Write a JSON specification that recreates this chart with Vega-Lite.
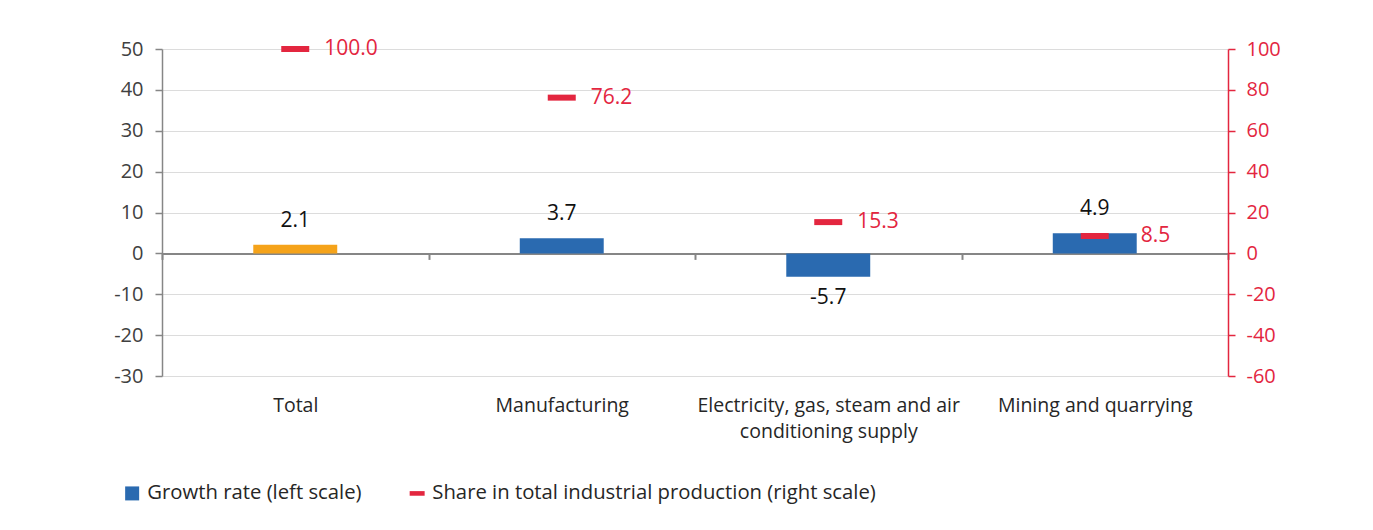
{
  "$schema": "https://vega.github.io/schema/vega-lite/v6.json",
  "width": 1066,
  "height": 327,
  "autosize": {"type": "none"},
  "padding": {"left": 162, "top": 49, "right": 145, "bottom": 154},
  "background": "white",
  "config": {
    "font": "Open Sans",
    "view": {"stroke": null},
    "axis": {"labelFont": "Open Sans", "titleFont": "Open Sans"},
    "legend": {"labelFont": "Open Sans"}
  },
  "data": {
    "values": [
      {"category": "Total", "growth": 2.1, "share": 100.0},
      {"category": "Manufacturing", "growth": 3.7, "share": 76.2},
      {"category": "Electricity, gas, steam and air conditioning supply", "growth": -5.7, "share": 15.3},
      {"category": "Mining  and quarrying", "growth": 4.9, "share": 8.5}
    ]
  },
  "encoding": {
    "x": {
      "field": "category",
      "type": "nominal",
      "sort": null,
      "scale": {"paddingInner": 0, "paddingOuter": 0},
      "axis": {
        "title": null,
        "labelAngle": 0,
        "offset": -122.6,
        "domainColor": "#868686",
        "domainWidth": 2,
        "tickBand": "extent",
        "tickColor": "#868686",
        "tickWidth": 2,
        "tickSize": 6,
        "labelPadding": 137,
        "labelFontSize": 19.5,
        "labelLimit": 0,
        "labelColor": "#262626",
        "labelBaseline": "top",
        "labelLineHeight": 26,
        "labelExpr": "datum.label === 'Electricity, gas, steam and air conditioning supply' ? ['Electricity, gas, steam and air', 'conditioning supply'] : datum.label"
      }
    }
  },
  "layer": [
    {
      "transform": [{"calculate": "replace(format(datum.growth, '.1f'), '\u2212', '-')", "as": "growthLabel"}],
      "layer": [
        {
          "mark": {"type": "bar", "width": {"band": 0.315}},
          "encoding": {
            "y": {
              "field": "growth",
              "type": "quantitative",
              "scale": {"domain": [-30, 50], "nice": false},
              "axis": {
                "title": null,
                "values": [-30, -20, -10, 0, 10, 20, 30, 40, 50],
                "labelExpr": "replace(datum.label, '\u2212', '-')",
                "grid": true,
                "gridColor": "#dcdcdc",
                "gridWidth": 1.2,
                "domainColor": "#868686",
                "domainWidth": 1.5,
                "tickColor": "#868686",
                "tickWidth": 1.5,
                "tickSize": 7,
                "labelPadding": 12,
                "labelFontSize": 20,
                "labelColor": "#404040"
              }
            },
            "color": {
              "condition": {"test": "datum.category === 'Total'", "value": "#f5a31a"},
              "datum": "Growth rate (left scale)",
              "type": "nominal",
              "scale": {
                "domain": ["Growth rate (left scale)", "Share in total industrial production (right scale)"],
                "range": ["#2a6ab0", "#e3263f"]
              },
              "legend": {
                "title": null,
                "orient": "none",
                "direction": "horizontal",
                "legendX": -40,
                "legendY": 434,
                "labelFontSize": 20.3,
                "labelLimit": 0,
                "labelColor": "#262626",
                "labelOffset": 5,
                "columnPadding": 45,
                "symbolSize": 196,
                "symbolStrokeWidth": 0,
                "symbolOpacity": 1,
                "encode": {
                  "symbols": {
                    "update": {
                      "shape": {"signal": "datum.value === 'Growth rate (left scale)' ? 'square' : 'M-1.07,-0.33H1.07V0.33H-1.07Z'"},
                      "strokeWidth": {"value": 0},
                      "opacity": {"value": 1}
                    }
                  }
                }
              }
            }
          }
        },
        {
          "transform": [{"filter": "datum.growth >= 0"}],
          "mark": {"type": "text", "dy": -24, "fontSize": 21, "color": "#111111", "baseline": "middle"},
          "encoding": {
            "y": {"field": "growth", "type": "quantitative"},
            "text": {"field": "growthLabel", "type": "nominal"}
          }
        },
        {
          "transform": [{"filter": "datum.growth < 0"}],
          "mark": {"type": "text", "dy": 21, "fontSize": 21, "color": "#111111", "baseline": "middle"},
          "encoding": {
            "y": {"field": "growth", "type": "quantitative"},
            "text": {"field": "growthLabel", "type": "nominal"}
          }
        }
      ]
    },
    {
      "layer": [
        {
          "mark": {"type": "tick", "size": 28, "thickness": 6, "orient": "horizontal", "opacity": 1},
          "encoding": {
            "y": {
              "field": "share",
              "type": "quantitative",
              "scale": {"domain": [-60, 100], "nice": false},
              "axis": {
                "orient": "right",
                "title": null,
                "values": [-60, -40, -20, 0, 20, 40, 60, 80, 100],
                "labelExpr": "replace(datum.label, '\u2212', '-')",
                "grid": false,
                "domainColor": "#e3263f",
                "domainWidth": 1.5,
                "tickColor": "#e3263f",
                "tickWidth": 1.5,
                "tickSize": 7,
                "labelPadding": 11,
                "labelFontSize": 20,
                "labelColor": "#e3263f"
              }
            },
            "color": {"datum": "Share in total industrial production (right scale)", "type": "nominal"}
          }
        },
        {
          "transform": [{"filter": "datum.category !== 'Mining  and quarrying'"}],
          "mark": {"type": "text", "align": "left", "baseline": "middle", "dx": 29, "fontSize": 21, "color": "#e3263f"},
          "encoding": {
            "y": {"field": "share", "type": "quantitative"},
            "text": {"field": "share", "type": "quantitative", "format": ".1f"}
          }
        },
        {
          "transform": [{"filter": "datum.category === 'Mining  and quarrying'"}],
          "mark": {"type": "text", "align": "left", "baseline": "middle", "dx": 46, "fontSize": 21, "color": "#e3263f"},
          "encoding": {
            "y": {"field": "share", "type": "quantitative"},
            "text": {"field": "share", "type": "quantitative", "format": ".1f"}
          }
        }
      ]
    }
  ],
  "resolve": {"scale": {"y": "independent"}}
}
